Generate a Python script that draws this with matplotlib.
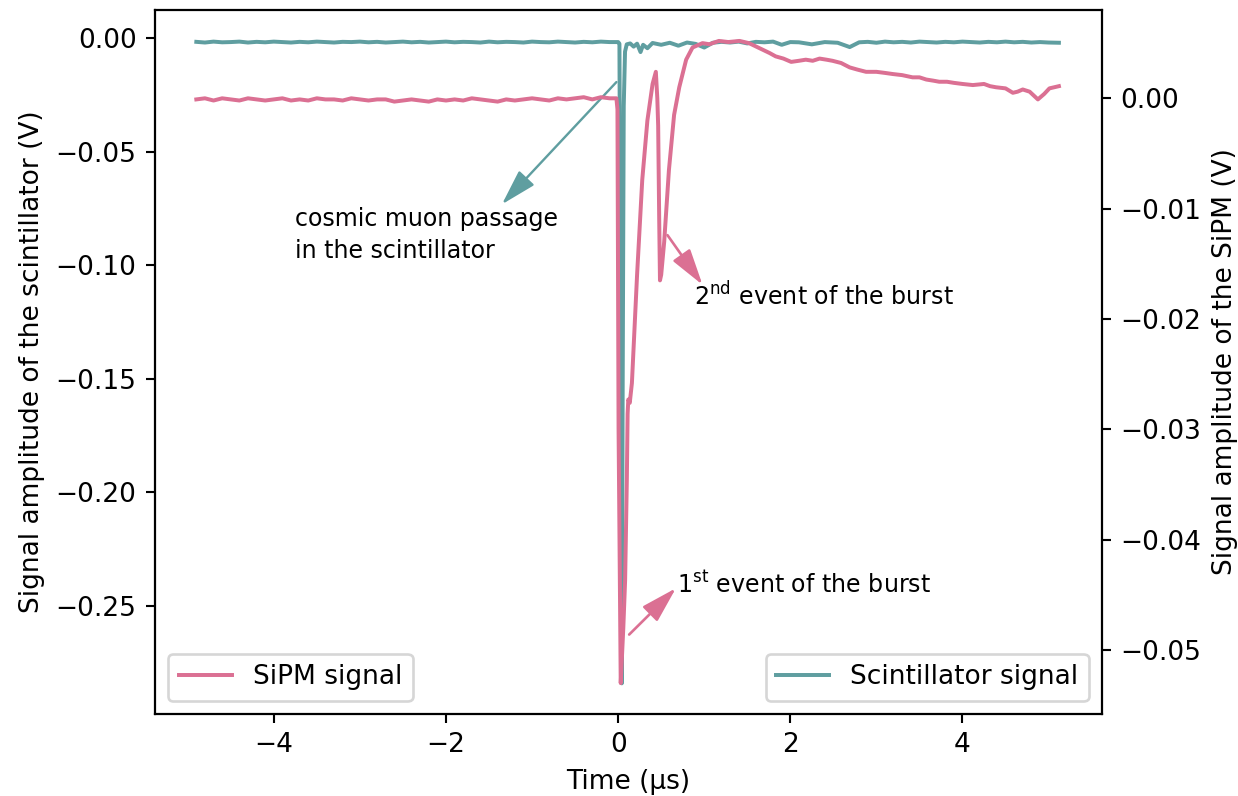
import numpy as np
import matplotlib
matplotlib.use("Agg")
import matplotlib.pyplot as plt

# scintillator signal (left axis, V)
t_scint = [-4.9, -4.8, -4.7, -4.6, -4.5, -4.4, -4.3, -4.2, -4.1, -4.0, -3.9, -3.8, -3.7,
           -3.6, -3.5, -3.4, -3.3, -3.2, -3.1, -3.0, -2.9, -2.8, -2.7, -2.6, -2.5, -2.4,
           -2.3, -2.2, -2.1, -2.0, -1.9, -1.8, -1.7, -1.6, -1.5, -1.4, -1.3, -1.2, -1.1,
           -1.0, -0.9, -0.8, -0.7, -0.6, -0.5, -0.4, -0.3, -0.2, -0.1,
           0.0, 0.015, 0.03, 0.042, 0.052, 0.065, 0.08, 0.1, 0.14, 0.18, 0.22, 0.26,
           0.29, 0.34, 0.4, 0.5, 0.6, 0.7, 0.8, 0.9, 1.0, 1.1, 1.2, 1.3, 1.4, 1.5, 1.6,
           1.7, 1.8, 1.9, 2.0, 2.1, 2.25, 2.4, 2.55, 2.69, 2.8, 2.9, 3.0, 3.1, 3.2, 3.3,
           3.4, 3.5, 3.6, 3.7, 3.8, 3.9, 4.0, 4.1, 4.2, 4.3, 4.4, 4.5, 4.6, 4.7, 4.8,
           4.9, 5.0, 5.12]
v_scint = [-0.0017, -0.0020, -0.0016, -0.0019, -0.0018, -0.0016, -0.0020, -0.0017,
           -0.0019, -0.0016, -0.0018, -0.0020, -0.0017, -0.0019, -0.0016, -0.0018,
           -0.0020, -0.0017, -0.0018, -0.0016, -0.0019, -0.0017, -0.0020, -0.0018,
           -0.0016, -0.0019, -0.0017, -0.0020, -0.0018, -0.0016, -0.0019, -0.0017,
           -0.0018, -0.0020, -0.0016, -0.0019, -0.0017, -0.0018, -0.0020, -0.0016,
           -0.0018, -0.0019, -0.0016, -0.0018, -0.0020, -0.0017, -0.0019, -0.0016,
           -0.0018,
           -0.0018, -0.0025, -0.14, -0.284, -0.16, -0.03, -0.006, -0.0028, -0.0024,
           -0.0038, -0.0025, -0.0062, -0.0030, -0.0045, -0.0022, -0.0030, -0.0021,
           -0.0034, -0.0020, -0.0026, -0.0042, -0.0021, -0.0017, -0.0020, -0.0016,
           -0.0024, -0.0017, -0.0019, -0.0016, -0.0030, -0.0018, -0.0019, -0.0028,
           -0.0018, -0.0021, -0.0040, -0.0019, -0.0017, -0.0021, -0.0016, -0.0019,
           -0.0017, -0.0020, -0.0016, -0.0018, -0.0020, -0.0017, -0.0019, -0.0016,
           -0.0018, -0.0020, -0.0017, -0.0019, -0.0016, -0.0019, -0.0017, -0.0020,
           -0.0018, -0.0020, -0.0021]

# SiPM signal (right axis, V)
t_sipm = [-4.9, -4.8, -4.7, -4.6, -4.5, -4.4, -4.3, -4.2, -4.1, -4.0, -3.9, -3.8, -3.7,
          -3.6, -3.5, -3.4, -3.3, -3.2, -3.1, -3.0, -2.9, -2.8, -2.7, -2.6, -2.5, -2.4,
          -2.3, -2.2, -2.1, -2.0, -1.9, -1.8, -1.7, -1.6, -1.5, -1.4, -1.3, -1.2, -1.1,
          -1.0, -0.9, -0.8, -0.7, -0.6, -0.5, -0.4, -0.3, -0.2, -0.1,
          -0.02, -0.008, 0.005, 0.03, 0.06, 0.081, 0.101, 0.110, 0.118, 0.135, 0.16,
          0.22, 0.28, 0.34, 0.40, 0.438, 0.455, 0.465, 0.477, 0.486, 0.50, 0.535,
          0.59, 0.65, 0.71, 0.79, 0.864, 0.98, 1.06, 1.17, 1.28, 1.41, 1.52, 1.6,
          1.68, 1.76, 1.83, 1.92, 2.01, 2.10, 2.18, 2.26, 2.34, 2.42, 2.49, 2.59, 2.69,
          2.78, 2.88, 3.0, 3.1, 3.19, 3.30, 3.42, 3.5, 3.58, 3.66, 3.73, 3.82, 3.9,
          4.0, 4.12, 4.25, 4.32, 4.39, 4.5, 4.585, 4.64, 4.70, 4.78, 4.876, 4.95,
          5.01, 5.12]
v_sipm = [-0.0001, 0.0000, -0.0002, 0.0000, -0.0001, -0.0002, 0.0000, -0.0001,
          -0.0002, -0.0001, 0.0000, -0.0002, -0.0001, -0.0002, 0.0000, -0.0001,
          -0.0001, -0.0002, 0.0000, -0.0001, -0.0002, -0.0001, -0.0001, -0.0003,
          -0.0002, -0.0001, -0.0002, -0.0003, -0.0001, -0.0002, -0.0001, -0.0002,
          0.0000, -0.0001, -0.0002, -0.0003, -0.0001, -0.0002, -0.0001, 0.0000,
          -0.0001, -0.0002, 0.0000, -0.0001, 0.0000, 0.0001, -0.0001, 0.0001, 0.0000,
          0.0000, -0.001, -0.030, -0.0530, -0.0480, -0.0437, -0.0346, -0.0286,
          -0.0273, -0.0276, -0.0258, -0.0160, -0.0074, -0.0020, 0.0013, 0.0024,
          0.0000, -0.0025, -0.0110, -0.0165, -0.0160, -0.0130, -0.0065, -0.0015,
          0.0010, 0.0035, 0.0046, 0.0050, 0.0049, 0.0052, 0.0051, 0.0052, 0.0050,
          0.0047, 0.0044, 0.0041, 0.0038, 0.0036, 0.0033, 0.0034, 0.0035, 0.0034,
          0.0036, 0.0035, 0.0034, 0.0032, 0.0028, 0.0026, 0.0024, 0.0024, 0.0023,
          0.0022, 0.0021, 0.0019, 0.0019, 0.0017, 0.0016, 0.0015, 0.0015, 0.0014,
          0.0013, 0.0012, 0.0013, 0.0011, 0.0010, 0.0009, 0.0005, 0.0006, 0.0008,
          0.0006, -0.0001, 0.0004, 0.0009, 0.0011]

c_scint = "cadetblue"
c_sipm = "palevioletred"
arrow_style = "-|>,head_length=0.45,head_width=0.13"

fig = plt.figure(figsize=(1238 / 190, 796 / 190), dpi=190)
ax1 = fig.add_subplot(111)
fig.subplots_adjust(left=0.1252, right=0.8901, bottom=0.103, top=0.9874)

ax1.plot(t_scint, v_scint, color=c_scint, lw=1.5, label="Scintillator signal")
ax1.set_xlim(-5.38, 5.62)
ax1.set_ylim(-0.2975, 0.0123)
ax1.set_xlabel("Time (µs)")
ax1.set_ylabel("Signal amplitude of the scintillator (V)")
ax1.legend(loc="lower right")

ax2 = ax1.twinx()
ax2.plot(t_sipm, v_sipm, color=c_sipm, lw=1.5, label="SiPM signal")
ax2.set_ylim(-0.0558, 0.0080)
ax2.set_ylabel("Signal amplitude of the SiPM (V)")
ax2.legend(loc="lower left")

# annotations
ax1.annotate("", xy=(-1.35, -0.0732), xytext=(-0.02, -0.0194),
             arrowprops=dict(arrowstyle=arrow_style, color=c_scint, lw=0.9,
                             mutation_scale=26, shrinkA=0, shrinkB=0))
ax1.text(-3.756, -0.0868, "cosmic muon passage\nin the scintillator",
         fontsize=9, va="center", ha="left", linespacing=1.45)

ax2.annotate("", xy=(0.98, -0.0169), xytext=(0.573, -0.0124),
             arrowprops=dict(arrowstyle=arrow_style, color=c_sipm, lw=1.0,
                             mutation_scale=26, shrinkA=0, shrinkB=0))
ax2.text(0.884, -0.0188, "2$^{\\rm nd}$ event of the burst", fontsize=9,
         va="baseline", ha="left")

ax2.annotate("", xy=(0.671, -0.0444), xytext=(0.128, -0.0486),
             arrowprops=dict(arrowstyle=arrow_style, color=c_sipm, lw=1.0,
                             mutation_scale=26, shrinkA=0, shrinkB=0))
ax2.text(0.686, -0.0448, "1$^{\\rm st}$ event of the burst", fontsize=9,
         va="baseline", ha="left")

fig.savefig("out.png", dpi=190)
